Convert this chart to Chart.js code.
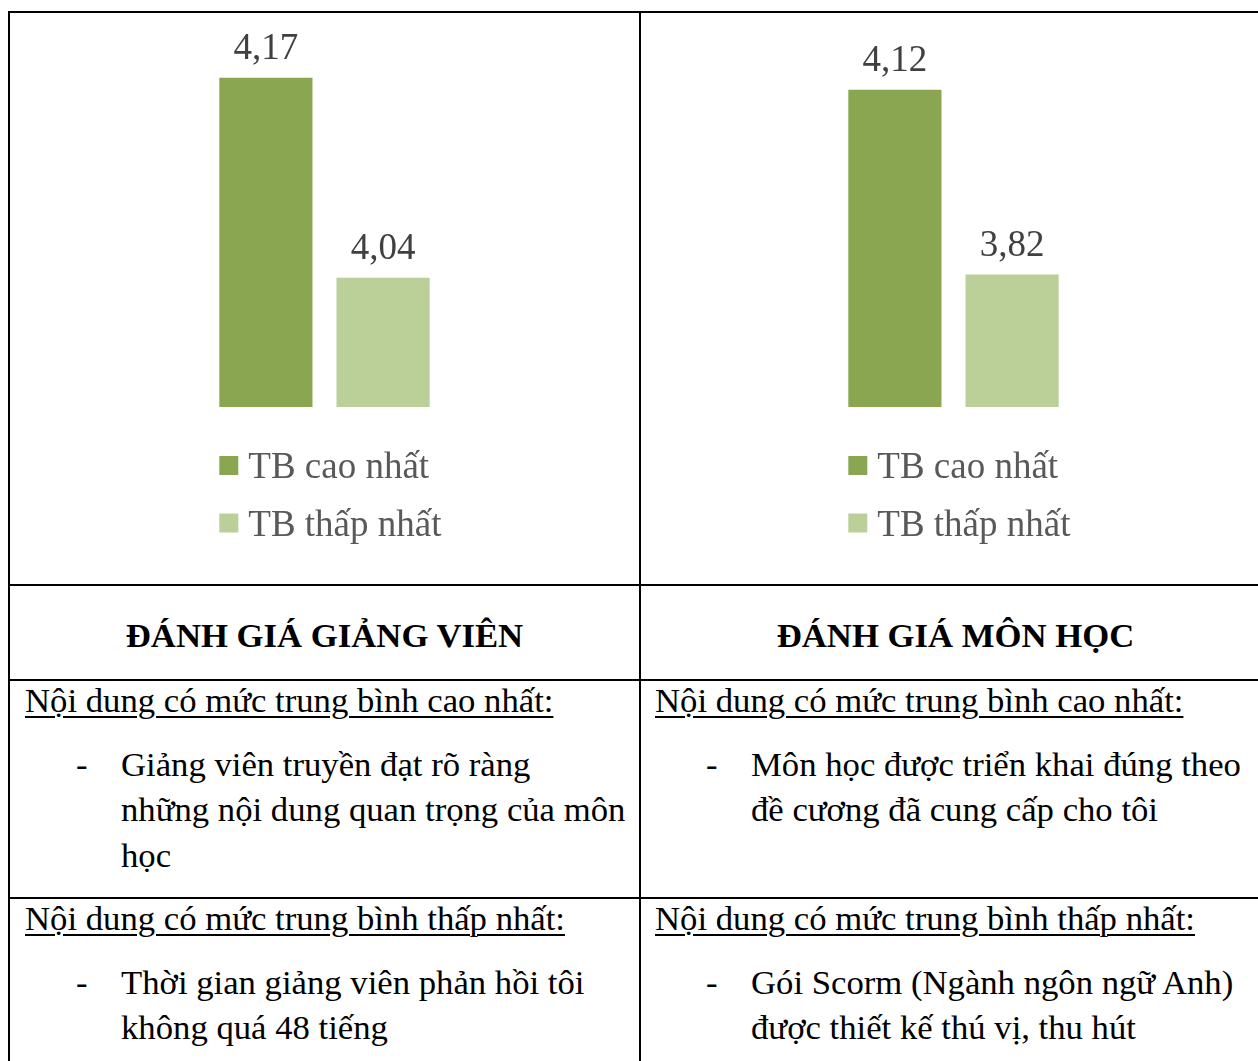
<!DOCTYPE html>
<html lang="vi">
<head>
<meta charset="utf-8">
<title>Đánh giá giảng viên và môn học</title>
<script src="https://cdn.jsdelivr.net/npm/chart.js@4/dist/chart.umd.min.js"></script>
<style>
    html, body {
        margin: 0;
        padding: 0;
        background: #fff;
        overflow: hidden;
    }
    .sheet {
        position: absolute;
        left: 8px;
        top: 11px;
        display: grid;
        grid-template-columns: 629px 629px;
        grid-template-rows: 571px 93px 216px 200px;
        gap: 2px;
        padding: 2px;
        background: #000;
        font-family: "Liberation Serif", "Times New Roman", serif;
        font-size: 34.7px;
        color: #000;
        white-space: nowrap;
    }
    .cell {
        background: #fff;
        position: relative;
    }
    .cell canvas {
        display: block;
    }
    .head {
        font-weight: bold;
        text-align: center;
        line-height: 40px;
        padding-top: 30px;
        box-sizing: border-box;
    }
    .text {
        padding-left: 15px;
        box-sizing: border-box;
    }
    .text.right {
        padding-left: 14px;
    }
    .lead {
        margin: 0;
        line-height: 40px;
        text-decoration: underline;
        text-decoration-thickness: 1.5px;
        text-underline-offset: 4px;
    }
    .item {
        position: relative;
        margin: 21px 0 0 0;
        padding-left: 96px;
        line-height: 45.3px;
    }
    .item .dash {
        position: absolute;
        left: 51px;
        top: 0;
    }
</style>
</head>
<body>
<div class="sheet">
    <div class="cell"><canvas id="lecturerChart" width="629" height="571"></canvas></div>
    <div class="cell"><canvas id="courseChart" width="629" height="571"></canvas></div>

    <div class="cell head">ĐÁNH GIÁ GIẢNG VIÊN</div>
    <div class="cell head">ĐÁNH GIÁ MÔN HỌC</div>

    <div class="cell text">
        <p class="lead">Nội dung có mức trung bình cao nhất:</p>
        <p class="item"><span class="dash">-</span>Giảng viên truyền đạt rõ ràng<br>những nội dung quan trọng của môn<br>học</p>
    </div>
    <div class="cell text right">
        <p class="lead">Nội dung có mức trung bình cao nhất:</p>
        <p class="item"><span class="dash">-</span>Môn học được triển khai đúng theo<br>đề cương đã cung cấp cho tôi</p>
    </div>

    <div class="cell text">
        <p class="lead">Nội dung có mức trung bình thấp nhất:</p>
        <p class="item"><span class="dash">-</span>Thời gian giảng viên phản hồi tôi<br>không quá 48 tiếng</p>
    </div>
    <div class="cell text right">
        <p class="lead">Nội dung có mức trung bình thấp nhất:</p>
        <p class="item"><span class="dash">-</span>Gói Scorm (Ngành ngôn ngữ Anh)<br>được thiết kế thú vị, thu hút</p>
    </div>
</div>

<script>
    // series shared by both charts
    const seriesLabels = ["TB cao nhất", "TB thấp nhất"];
    const seriesColors = ["#8AA650", "#BBCF99"];

    // values
    const lecturerValues = [4.17, 4.04];
    const courseValues = [4.12, 3.82];

    // value axis range of each chart (axis itself is hidden)
    const lecturerRange = [3.956, 4.201];
    const courseRange = [3.605, 4.217];

    const serifFont = "'Liberation Serif', 'Times New Roman', serif";

    // value printed above each bar, decimal comma
    const barValues = {
        id: "barValues",
        afterDatasetsDraw(chart) {
            const ctx = chart.ctx;
            ctx.save();
            ctx.font = "37px " + serifFont;
            ctx.fillStyle = "#404040";
            ctx.textAlign = "center";
            ctx.textBaseline = "alphabetic";
            chart.data.datasets.forEach((ds, i) => {
                chart.getDatasetMeta(i).data.forEach((bar, j) => {
                    let txt = ds.data[j].toFixed(2).replace(".", ",");
                    ctx.fillText(txt, bar.x, bar.y - 18.5);
                });
            });
            ctx.restore();
        },
    };

    // stacked legend under the bars, left edge on the first bar
    const stackedLegend = {
        id: "stackedLegend",
        afterDraw(chart) {
            const ctx = chart.ctx;
            const first = chart.getDatasetMeta(0).data[0];
            const left = first.x - first.width / 2;
            const bottom = chart.chartArea.bottom;
            ctx.save();
            ctx.font = "37px " + serifFont;
            ctx.textBaseline = "alphabetic";
            ctx.textAlign = "left";
            chart.data.datasets.forEach((ds, i) => {
                let base = bottom + 71 + i * 57.5;
                ctx.fillStyle = ds.backgroundColor;
                ctx.fillRect(left, base - 22, 19, 19);
                ctx.fillStyle = "#595959";
                ctx.fillText(ds.label, left + 29, base);
            });
            ctx.restore();
        },
    };

    function drawChart(id, values, range, padLeft, padRight) {
        return new Chart(document.getElementById(id), {
            type: "bar",
            data: {
                labels: [""],
                datasets: seriesLabels.map((label, i) => ({
                    label: label,
                    data: [values[i]],
                    backgroundColor: seriesColors[i],
                    borderWidth: 0,
                    barPercentage: 0.795,
                    categoryPercentage: 0.8,
                })),
            },
            options: {
                responsive: false,
                animation: false,
                layout: {
                    padding: { top: 17, bottom: 177, left: padLeft, right: padRight },
                },
                scales: {
                    x: { display: false },
                    y: { display: false, min: range[0], max: range[1] },
                },
                plugins: {
                    legend: { display: false },
                    tooltip: { enabled: false },
                },
            },
            plugins: [barValues, stackedLegend],
        });
    }

    drawChart("lecturerChart", lecturerValues, lecturerRange, 168, 168);
    drawChart("courseChart", courseValues, courseRange, 166, 170);
</script>
</body>
</html>
